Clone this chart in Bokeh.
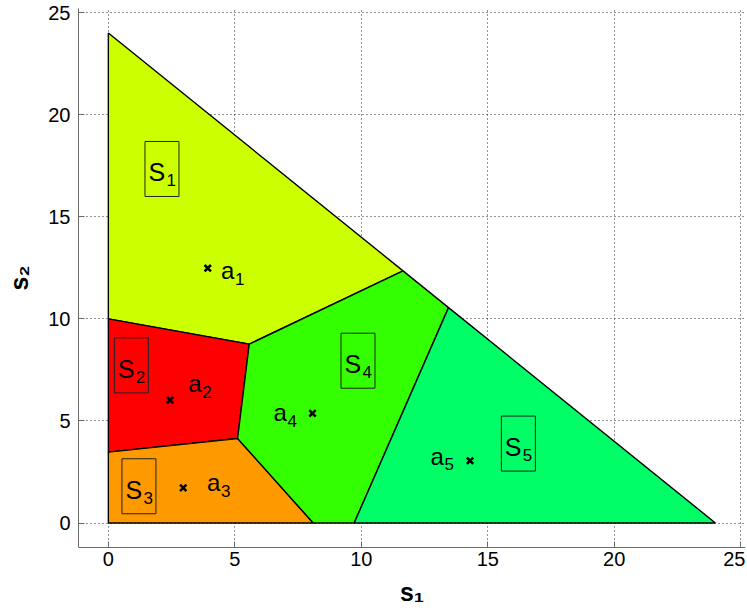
from bokeh.plotting import figure
from bokeh.models import Range1d, FixedTicker
from bokeh.core.properties import value
from bokeh.embed import file_html
from bokeh.resources import INLINE

# ---- data ----
s1_x = [0, 11.65, 5.57, 0]
s1_y = [24, 12.35, 8.76, 10]
s2_x = [0, 5.57, 5.11, 0]
s2_y = [10, 8.76, 4.14, 3.47]
s3_x = [0, 5.11, 8.10, 0]
s3_y = [3.47, 4.14, 0, 0]
s4_x = [5.57, 11.65, 13.45, 9.72, 8.10, 5.11]
s4_y = [8.76, 12.35, 10.55, 0, 0, 4.14]
s5_x = [13.45, 24, 9.72]
s5_y = [10.55, 0, 0]
region_colors = ["#CCFF00", "#FF0000", "#FF9900", "#33FF00", "#00FF66"]

a_x = [3.93, 2.44, 2.96, 8.07, 14.30]
a_y = [12.48, 6.02, 1.72, 5.37, 3.05]
a_sub = ["1", "2", "3", "4", "5"]
a_label_x = [4.45, 3.16, 3.90, 6.53, 12.74]
a_label_y = [12.35, 6.81, 1.96, 5.40, 3.27]

s_box_x = [2.12, 0.91, 1.21, 9.87, 16.21]
s_box_y = [17.34, 7.72, 1.80, 7.95, 3.89]
s_sub = ["1", "2", "3", "4", "5"]

ticks = [0, 5, 10, 15, 20, 25]
x_label = "s\u2081"
y_label = "s\u2082"

FONT = "Liberation Sans"

p = figure(width=745, height=614,
           x_range=Range1d(-1.18, 25.19), y_range=Range1d(-1.2, 25.2),
           output_backend="svg", toolbar_location=None,
           min_border_left=78, min_border_right=0,
           min_border_top=8, min_border_bottom=67)
p.outline_line_color = None
p.background_fill_color = "white"

for ax in (p.xaxis, p.yaxis):
    ax.ticker = FixedTicker(ticks=ticks)
    ax.axis_line_color = "#6a6a6a"
    ax.major_tick_line_color = "#6a6a6a"
    ax.major_tick_in = 6
    ax.major_tick_out = 0
    ax.minor_tick_line_color = None
    ax.major_label_text_font = FONT
    ax.major_label_text_font_size = "20px"
    ax.major_label_text_color = "black"
    ax.axis_label_text_font = FONT
    ax.axis_label_text_font_size = "25px"
    ax.axis_label_text_font_style = "bold"
    ax.axis_label_text_color = "black"
p.xaxis.major_label_standoff = 4
p.yaxis.major_label_standoff = 8
p.xaxis.axis_label = x_label
p.yaxis.axis_label = y_label
p.xaxis.axis_label_standoff = 9
p.yaxis.axis_label_standoff = 12

p.grid.ticker = FixedTicker(ticks=ticks)
p.grid.grid_line_color = "black"
p.grid.grid_line_dash = "1 3"
p.grid.grid_line_width = 1
p.grid.grid_line_alpha = 0.85

p.patches(xs=[s1_x, s2_x, s3_x, s4_x, s5_x],
          ys=[s1_y, s2_y, s3_y, s4_y, s5_y],
          fill_color=region_colors, line_color="black", line_width=1.4)

p.scatter(a_x, a_y, marker="x", size=9, line_width=2.6, color="black")

# a_i labels
p.text(x=a_label_x, y=a_label_y, text=["a"] * 5, text_font=value(FONT),
       text_font_size="24px", text_baseline="alphabetic", text_align="left",
       text_color="black")
p.text(x=a_label_x, y=a_label_y, text=a_sub, text_font=value(FONT),
       text_font_size="17px", text_baseline="alphabetic", text_align="left",
       x_offset=14, y_offset=8, text_color="black")

# S_i boxed labels
p.rect(x=s_box_x, y=s_box_y, width=34, height=55, width_units="screen",
       height_units="screen", fill_color=None, line_color="#222222", line_width=1)
p.text(x=s_box_x, y=s_box_y, text=["S"] * 5, text_font=value(FONT),
       text_font_size="25px", text_baseline="alphabetic", text_align="left",
       x_offset=-13.5, y_offset=3.5, text_color="black")
p.text(x=s_box_x, y=s_box_y, text=s_sub, text_font=value(FONT),
       text_font_size="17px", text_baseline="alphabetic", text_align="left",
       x_offset=4.5, y_offset=11.5, text_color="black")

open("out.html", "w").write(file_html(p, INLINE))
